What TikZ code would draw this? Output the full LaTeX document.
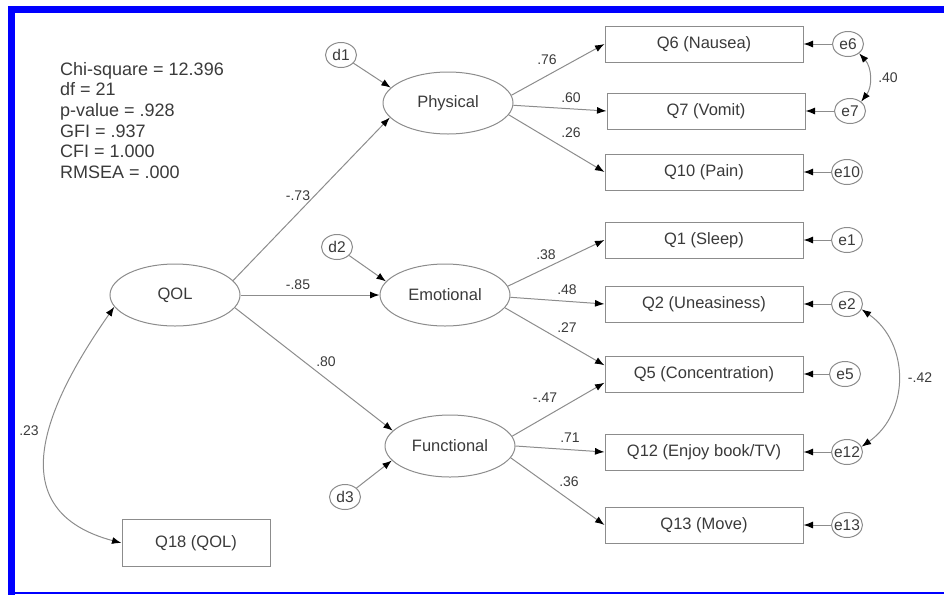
\documentclass[tikz,border=0pt]{standalone}
\usepackage{fontspec}
\setmainfont{Liberation Sans}
\usetikzlibrary{arrows.meta,shapes.geometric}
\definecolor{amosline}{HTML}{8C8C8C}
\definecolor{amostext}{HTML}{3A3A3A}
\definecolor{frameblue}{RGB}{0,0,255}
\newcommand{\ctext}[1]{\makebox[0pt]{#1}}
\begin{document}
\begin{tikzpicture}[x=1pt,y=1pt,
    every node/.style={text=amostext},
    latent/.style={ellipse,draw=amosline,line width=1pt,minimum width=130pt,minimum height=62pt,inner sep=0pt,font=\fontsize{16.5}{16.5}\selectfont},
    obs/.style={rectangle,draw=amosline,line width=1pt,minimum width=198pt,minimum height=36pt,inner sep=0pt,font=\fontsize{16.5}{16.5}\selectfont},
    errc/.style={ellipse,draw=amosline,line width=1pt,minimum width=31pt,minimum height=25pt,inner sep=0pt,font=\fontsize{15.5}{15.5}\selectfont},
    coef/.style={inner sep=0pt,font=\fontsize{14}{14}\selectfont},
    reg/.style={draw=amosline,line width=1pt,-{Latex[length=9.5pt,width=7pt,color=black]}},
    cov/.style={draw=amosline,line width=1pt,{Latex[length=9.5pt,width=7pt,color=black]}-{Latex[length=9.5pt,width=7pt,color=black]}}]
  \useasboundingbox (0,0) rectangle (944,-595);
  \draw[frameblue,line width=7pt] (8,-9.7) -- (944,-9.7);
  \draw[frameblue,line width=7pt] (11.5,-6) -- (11.5,-595);
  \draw[frameblue,line width=1.5pt] (8,-593) -- (944,-593);
  \node[anchor=north west,align=left,inner sep=0pt,font=\fontsize{18}{20.6}\selectfont] (fit) at (60,-62)
    {Chi-square = 12.396\\df = 21\\p-value = .928\\GFI = .937\\CFI = 1.000\\RMSEA = .000};
  \draw
    (175,-295) node[latent] (qol){QOL}
    (448,-103) node[latent] (phys){Physical}
    (445,-295) node[latent] (emo){Emotional}
    (450,-446) node[latent] (func){Functional}
    (196,-543) node[obs,minimum width=148pt,minimum height=47pt] (q18){Q18 (QOL)}
    (704,-44) node[obs] (q6){Q6 (Nausea)}
    (706,-111) node[obs] (q7){Q7 (Vomit)}
    (704,-172) node[obs] (q10){Q10 (Pain)}
    (704,-240) node[obs] (q1){Q1 (Sleep)}
    (704,-304) node[obs] (q2){Q2 (Uneasiness)}
    (704,-374) node[obs] (q5){Q5 (Concentration)}
    (704,-452) node[obs] (q12){Q12 (Enjoy book/TV)}
    (704,-525) node[obs] (q13){Q13 (Move)};
  \draw
    (341,-55) node[errc] (d1){\ctext{d1}}
    (337,-247) node[errc] (d2){\ctext{d2}}
    (345,-497) node[errc] (d3){\ctext{d3}}
    (848,-44) node[errc] (e6){\ctext{e6}}
    (850,-111) node[errc] (e7){\ctext{e7}}
    (847,-172) node[errc] (e10){\ctext{e10}}
    (847,-240) node[errc] (e1){\ctext{e1}}
    (847,-304) node[errc] (e2){\ctext{e2}}
    (845,-374) node[errc] (e5){\ctext{e5}}
    (847,-452) node[errc] (e12){\ctext{e12}}
    (847,-525) node[errc] (e13){\ctext{e13}};
  \begin{scope}
    \draw[reg] (qol.14) to (phys.194);
    \draw[reg] (qol.east) to (emo.west);
    \draw[reg] (qol.348) to (func.165);
    \draw[reg] (d1) to (phys.165);
    \draw[reg] (d2) to (emo.167);
    \draw[reg] (d3) to (func.194);
    \draw[reg] (phys.7) to (q6.west);
    \draw[reg] (phys.358) to (q7.west);
    \draw[reg] (phys.349) to (q10.west);
    \draw[reg] (emo.8) to (q1.west);
    \draw[reg] (emo.358) to (q2.west);
    \draw[reg] (emo.348) to (q5.175);
    \draw[reg] (func.9) to (q5.185);
    \draw[reg] (func.0) to (q12.west);
    \draw[reg] (func.349) to (q13.west);
    \draw[reg] (e6) to (q6.east);
    \draw[reg] (e7) to (q7.east);
    \draw[reg] (e10) to (q10.east);
    \draw[reg] (e1) to (q1.east);
    \draw[reg] (e2) to (q2.east);
    \draw[reg] (e5) to (q5.east);
    \draw[reg] (e12) to (q12.east);
    \draw[reg] (e13) to (q13.east);
    \draw[cov] (e6.-40) to[bend left=40] (e7.40);
    \draw[cov] (e2.-20) to[bend left=55,looseness=1.1] (e12.20);
    \draw[cov] (qol.191) to[out=235,in=165,looseness=1.35] (q18.west);
  \end{scope}
  \draw
    (298,-196) node[coef] (c73){-.73}
    (298,-285) node[coef] (c85){-.85}
    (326,-362) node[coef] (c80){.80}
    (547,-60) node[coef] (c76){.76}
    (571,-98) node[coef] (c60){.60}
    (571,-133) node[coef] (c26){.26}
    (546,-255) node[coef] (c38){.38}
    (567,-290) node[coef] (c48){.48}
    (567,-328) node[coef] (c27){.27}
    (545,-398) node[coef] (c47){-.47}
    (570,-438) node[coef] (c71){.71}
    (569,-482) node[coef] (c36){.36}
    (888,-78) node[coef] (c40){.40}
    (920,-378) node[coef] (c42){-.42}
    (29,-431) node[coef] (c23){.23};
\end{tikzpicture}
\end{document}
